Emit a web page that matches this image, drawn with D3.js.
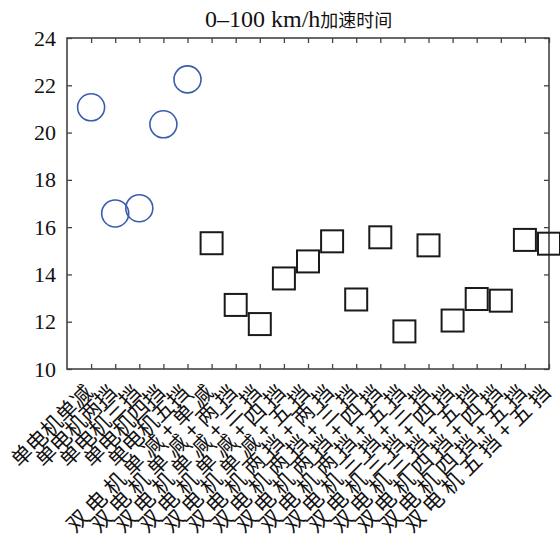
<!DOCTYPE html>
<html>
<head>
<meta charset="utf-8">
<script src="https://cdn.jsdelivr.net/npm/d3@7"></script>
<style>
  body { margin: 0; background: #fff; }
  svg { display: block; }
</style>
</head>
<body>
<svg id="chart" width="560" height="543"></svg>
<script>
// 类别名称
const categories = [
    "单电机单减", "单电机两挡", "单电机三挡", "单电机四挡", "单电机五挡",
    "双电机单减+单减", "双电机单减+两挡", "双电机单减+三挡", "双电机单减+四挡", "双电机单减+五挡",
    "双电机两挡+两挡", "双电机两挡+三挡", "双电机两挡+四挡", "双电机两挡+五挡",
    "双电机三挡+三挡", "双电机三挡+四挡", "双电机三挡+五挡",
    "双电机四挡+四挡", "双电机四挡+五挡", "双电机五挡+五挡"
];
// 0-100 km/h 加速时间 (s)
const singleMotor = [21.07, 16.58, 16.8, 20.35, 22.25];
const dualMotor = [15.32, 12.71, 11.9, 13.83, 14.55, 15.4, 12.94, 15.57, 11.59, 15.23, 12.05, 12.96, 12.89, 15.46, 15.3];
const yTicks = [10, 12, 14, 16, 18, 20, 22, 24];
const titleNum = "0–100 km/h";
const titleZh = "加速时间";

const plotL = 67, plotR = 549, plotT = 38, plotB = 369;
const axisColor = "#444";
const serif = "'Liberation Serif', 'Times New Roman', serif";
const cjk = "'Noto Sans CJK SC', sans-serif";

const svg = d3.select("#chart");
const x = d3.scaleLinear().domain([0, categories.length]).range([plotL, plotR]);
const y = d3.scaleLinear().domain([10, 24]).range([plotB, plotT]);
const xTicks = d3.range(1, categories.length + 1);

// 刻度线 (朝内)
svg.append("g")
    .attr("transform", `translate(0,${plotB})`)
    .call(d3.axisBottom(x).tickValues(xTicks).tickSize(-5).tickFormat(""))
    .call(g => g.select(".domain").remove());
svg.append("g")
    .attr("transform", `translate(0,${plotT})`)
    .call(d3.axisTop(x).tickValues(xTicks).tickSize(-5).tickFormat(""))
    .call(g => g.select(".domain").remove());
svg.append("g")
    .attr("transform", `translate(${plotL},0)`)
    .call(d3.axisLeft(y).tickValues(yTicks).tickSize(-5).tickPadding(11))
    .call(g => g.select(".domain").remove())
    .call(g => g.selectAll("text").attr("font-family", serif).attr("font-size", 22).attr("fill", "#111"));
svg.append("g")
    .attr("transform", `translate(${plotR},0)`)
    .call(d3.axisRight(y).tickValues(yTicks).tickSize(-5).tickFormat(""))
    .call(g => g.select(".domain").remove());
svg.selectAll(".tick line").attr("stroke", axisColor).attr("stroke-width", 1.3);

// 外框
svg.append("rect")
    .attr("x", plotL).attr("y", plotT)
    .attr("width", plotR - plotL).attr("height", plotB - plotT)
    .attr("fill", "none").attr("stroke", axisColor).attr("stroke-width", 1.6);

// x 轴标签 (旋转 45°), 双电机标签字距较宽
const spacing = d => d.length > 5 ? 5.5 : 0;
svg.append("g").selectAll("text")
    .data(categories)
    .join("text")
    .attr("transform", (d, i) => `translate(${x(i + 1) + 3},${plotB + 25}) rotate(-45)`)
    .attr("text-anchor", "end")
    .attr("font-family", cjk)
    .attr("font-size", 21)
    .attr("fill", "#111")
    .selectAll("tspan")
    .data(d => {
        // 逐字放置, 末字不加字距
        const chars = Array.from(d);
        return chars.map((c, k) => ({ c, ls: k < chars.length - 1 ? spacing(d) : 0 }));
    })
    .join("tspan")
    .attr("dx", (d, k) => k === 0 ? 0 : null)
    .attr("letter-spacing", d => d.ls)
    .text(d => d.c);

// 单电机: 圆
svg.append("g").selectAll("circle")
    .data(singleMotor)
    .join("circle")
    .attr("cx", (d, i) => x(i + 1))
    .attr("cy", d => y(d))
    .attr("r", 13.5)
    .attr("fill", "none")
    .attr("stroke", "#3a5db0")
    .attr("stroke-width", 1.6);

// 双电机: 方块
const sq = 22;
svg.append("g").selectAll("rect")
    .data(dualMotor)
    .join("rect")
    .attr("x", (d, i) => x(i + 1 + singleMotor.length) - sq / 2)
    .attr("y", d => y(d) - sq / 2)
    .attr("width", sq).attr("height", sq)
    .attr("fill", "none")
    .attr("stroke", "#1a1a1a")
    .attr("stroke-width", 2);

// 标题
const title = svg.append("text")
    .attr("x", 205).attr("y", 27)
    .attr("fill", "#111");
title.append("tspan").attr("font-family", serif).attr("font-size", 24).text(titleNum);
title.append("tspan").attr("font-family", cjk).attr("font-size", 18).text(titleZh);
</script>
</body>
</html>
